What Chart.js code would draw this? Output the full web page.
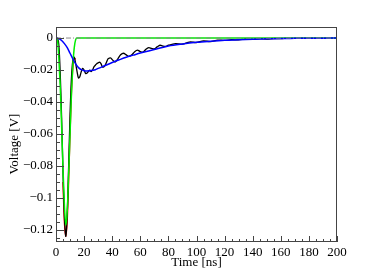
<!DOCTYPE html>
<html>
<head>
<meta charset="utf-8">
<script src="https://cdn.jsdelivr.net/npm/chart.js@4.4.1/dist/chart.umd.min.js"></script>
<style>
  html, body { margin: 0; padding: 0; background: #fff; }
</style>
</head>
<body>
<canvas id="c" width="374" height="270"></canvas>
<script>
/* ---------- data ---------- */
const xTicks = [0, 20, 40, 60, 80, 100, 120, 140, 160, 180, 200];
const yTicks = [0, -0.02, -0.04, -0.06, -0.08, -0.1, -0.12];

// measured waveform (black)
const dataT = [0, 1, 2, 3, 4, 5, 6, 7, 8, 9, 10, 11, 12, 13, 14, 15, 16, 17, 18, 19, 20,
  21, 22, 23, 24, 25, 26, 27, 28, 29, 30, 31, 32, 33, 34, 35, 36, 37, 38, 39, 40,
  42, 44, 46, 48, 50, 52, 54, 56, 58, 60, 62, 64, 66, 68, 70, 72, 74, 76, 78, 80,
  85, 90, 95, 100, 105, 110, 115, 120, 125, 130, 135, 140, 145, 150, 155, 160,
  165, 170, 175, 180, 185, 190, 195, 200];
const dataV = [0, 0, -0.004, -0.022, -0.05, -0.085, -0.112, -0.124, -0.11, -0.08, -0.048,
  -0.025, -0.014, -0.012, -0.016, -0.021, -0.025, -0.024, -0.021, -0.019, -0.02,
  -0.022, -0.022, -0.021, -0.02, -0.021, -0.02, -0.018, -0.017, -0.016, -0.0155,
  -0.015, -0.016, -0.018, -0.018, -0.017, -0.015, -0.013, -0.0125, -0.0125, -0.0135,
  -0.015, -0.013, -0.0105, -0.0095, -0.0105, -0.0115, -0.0105, -0.0085, -0.0075, -0.0085,
  -0.0088, -0.007, -0.006, -0.0065, -0.0068, -0.0055, -0.0045, -0.005, -0.0052, -0.0045,
  -0.0035, -0.0038, -0.0025, -0.0028, -0.0018, -0.0022, -0.0013, -0.0015, -0.001, -0.0012,
  -0.0006, -0.0008, -0.0004, -0.0006, -0.0003, -0.0004,
  -0.0001, -0.0002, 0, -0.0001, 0, 0, 0, 0];

// slow component (blue)
const slowT = [0, 2, 4, 6, 8, 10, 12, 14, 16, 18, 20, 22, 24, 26, 28, 30, 35, 40, 45, 50,
  55, 60, 70, 80, 90, 100, 110, 120, 130, 140, 150, 160, 170, 180, 190, 200];
const slowV = [0, -0.0003, -0.0015, -0.0035, -0.006, -0.0095, -0.013, -0.0162, -0.0185,
  -0.0198, -0.0204, -0.0206, -0.0205, -0.0202, -0.0198, -0.019, -0.0172, -0.0153, -0.0136,
  -0.012, -0.0107, -0.0094, -0.0072, -0.005, -0.0037, -0.0027, -0.002, -0.0014, -0.001,
  -0.0007, -0.0005, -0.0003, -0.0002, -0.0001, -0.0001, 0];

// fast pulse (green)
const fastT = [0, 1, 2, 3, 4, 5, 6, 7, 8, 9, 10, 11, 12, 13, 14, 15, 200];
const fastV = [0, -0.001, -0.012, -0.03, -0.055, -0.082, -0.105, -0.117, -0.108, -0.085,
  -0.06, -0.035, -0.017, -0.006, -0.001, 0, 0];

// fit around the peak (red)
const fitT = [5, 6, 7, 8, 9, 10, 11, 12, 13, 14];
const fitV = [-0.09, -0.115, -0.124, -0.113, -0.088, -0.058, -0.033, -0.018, -0.013, -0.013];

// baseline
const baseT = [0, 200];
const baseV = [0, 0];

/* ---------- helpers ---------- */
function pts(ts, vs) {
  return ts.map((t, i) => ({ x: t, y: vs[i] }));
}

const FONT = 'Liberation Serif';

function fmtY(v) {
  if (v === 0) return '0';
  return '\u2212' + String(Math.abs(v));
}

// frame, inside ticks and the y title
const frameTicks = {
  id: 'frameTicks',
  afterDatasetsDraw(chart) {
    const { ctx, chartArea: a, scales: { x, y } } = chart;
    ctx.save();
    ctx.strokeStyle = '#444';
    ctx.lineWidth = 1;
    ctx.beginPath();
    for (let t = 0; t <= 200; t += 5) {
      const px = Math.round(x.getPixelForValue(t)) + 0.5;
      const len = t % 20 === 0 ? 6 : 3;
      ctx.moveTo(px, a.bottom);
      ctx.lineTo(px, a.bottom - len);
    }
    for (let k = 0; k <= 25; k++) {
      const py = Math.round(y.getPixelForValue(-k * 0.005)) + 0.5;
      const len = k % 4 === 0 ? 8 : 4;
      ctx.moveTo(a.left, py);
      ctx.lineTo(a.left + len, py);
    }
    ctx.stroke();
    ctx.strokeRect(a.left + 0.5, a.top + 0.5, a.width - 1, a.height - 1);

    ctx.fillStyle = '#000';
    ctx.font = '13px "' + FONT + '"';
    ctx.textAlign = 'center';
    ctx.textBaseline = 'middle';
    ctx.translate(15, 144);
    ctx.rotate(-Math.PI / 2);
    ctx.fillText('Voltage [V]', 0, 0);
    ctx.restore();
  }
};

/* ---------- chart ---------- */
const line = (data, color, width, extra) => Object.assign({
  data,
  borderColor: color,
  borderWidth: width,
  pointRadius: 0,
  fill: false
}, extra || {});

new Chart(document.getElementById('c').getContext('2d'), {
  type: 'line',
  data: {
    datasets: [
      line(pts(baseT, baseV), '#8a8a8a', 1, { borderDash: [5, 2, 1, 2] }),
      line(pts(slowT, slowV), '#0000ff', 1.5, { cubicInterpolationMode: 'monotone' }),
      line(pts(fastT, fastV), '#00ee00', 1.5, { cubicInterpolationMode: 'monotone' }),
      line(pts(dataT, dataV), '#000000', 1.3, { tension: 0.3 }),
      line(pts(fitT, fitV), '#ff0000', 1.5, { cubicInterpolationMode: 'monotone' })
    ]
  },
  options: {
    responsive: false,
    animation: false,
    layout: { padding: { left: 0, top: 27, right: 37, bottom: 0 } },
    plugins: { legend: { display: false }, tooltip: { enabled: false } },
    scales: {
      x: {
        type: 'linear',
        min: 0,
        max: 200,
        afterBuildTicks: s => { s.ticks = xTicks.map(v => ({ value: v })); },
        afterFit: s => { s.height = 28; },
        grid: { display: false, drawTicks: false },
        border: { display: false },
        ticks: {
          padding: 3,
          maxRotation: 0,
          autoSkip: false,
          color: '#000',
          font: { family: FONT, size: 13 }
        },
        title: {
          display: true,
          text: 'Time [ns]',
          color: '#000',
          padding: { top: 0, bottom: 0 },
          font: { family: FONT, size: 13 }
        }
      },
      y: {
        type: 'linear',
        min: -0.1275,
        max: 0.0069,
        afterBuildTicks: s => { s.ticks = yTicks.map(v => ({ value: v })); },
        afterFit: s => { s.width = 56; },
        grid: { display: false, drawTicks: false },
        border: { display: false },
        ticks: {
          padding: 3,
          autoSkip: false,
          color: '#000',
          font: { family: FONT, size: 13 },
          callback: v => fmtY(v)
        }
      }
    }
  },
  plugins: [frameTicks]
});
</script>
</body>
</html>
